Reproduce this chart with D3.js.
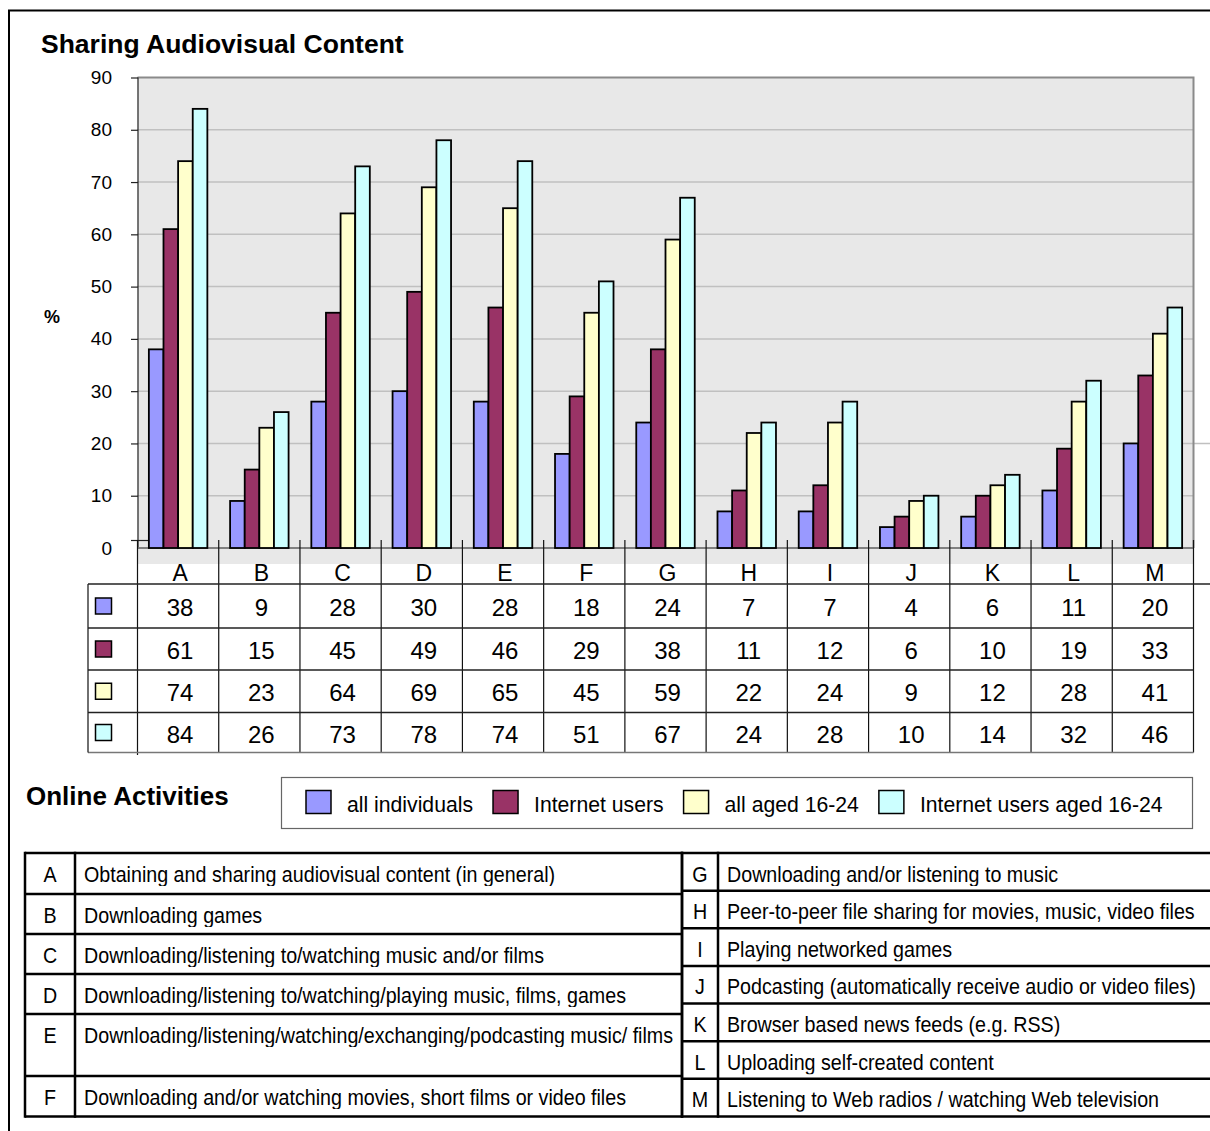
<!DOCTYPE html>
<html><head><meta charset="utf-8">
<script src="https://cdn.jsdelivr.net/npm/d3@7"></script>
<style>
body{margin:0;background:#fff}
svg{display:block}
text{font-family:"Liberation Sans",Arial,Helvetica,sans-serif;fill:#000}
</style>
</head><body>
<svg id="c" width="1210" height="1131"></svg>
<script>
// ---------------- DATA ----------------
const categories = ["A","B","C","D","E","F","G","H","I","J","K","L","M"];
const allIndividuals        = [38, 9, 28, 30, 28, 18, 24, 7, 7, 4, 6, 11, 20];
const internetUsers         = [61, 15, 45, 49, 46, 29, 38, 11, 12, 6, 10, 19, 33];
const allAged1624           = [74, 23, 64, 69, 65, 45, 59, 22, 24, 9, 12, 28, 41];
const internetUsersAged1624 = [84, 26, 73, 78, 74, 51, 67, 24, 28, 10, 14, 32, 46];
const seriesNames  = ["all individuals", "Internet users", "all aged 16-24", "Internet users aged 16-24"];
const seriesColors = ["#9999ff", "#993366", "#ffffcc", "#ccffff"];
const yTicks = [0, 10, 20, 30, 40, 50, 60, 70, 80, 90];
const activitiesLeftCodes = ["A","B","C","D","E","F"];
const activitiesLeftText = [
  "Obtaining and sharing audiovisual content (in general)",
  "Downloading games",
  "Downloading/listening to/watching music and/or films",
  "Downloading/listening to/watching/playing music, films, games",
  "Downloading/listening/watching/exchanging/podcasting music/ films",
  "Downloading and/or watching movies, short films or video files"
];
const activitiesRightCodes = ["G","H","I","J","K","L","M"];
const activitiesRightText = [
  "Downloading and/or listening to music",
  "Peer-to-peer file sharing for movies, music, video files",
  "Playing networked games",
  "Podcasting (automatically receive audio or video files)",
  "Browser based news feeds (e.g. RSS)",
  "Uploading self-created content",
  "Listening to Web radios / watching Web television"
];
const series = [allIndividuals, internetUsers, allAged1624, internetUsersAged1624];

// ---------------- LAYOUT ----------------
const svg = d3.select("#c");
const W = 1210, H = 1131;
const plot = {left: 137.5, right: 1193.5, top: 77.5, bottom: 548, floor: 564};

// outer frame
svg.append("line").attr("x1", 8).attr("x2", W).attr("y1", 10.5).attr("y2", 10.5)
  .attr("stroke", "#000").attr("stroke-width", 2);
svg.append("line").attr("x1", 9).attr("x2", 9).attr("y1", 10).attr("y2", H)
  .attr("stroke", "#000").attr("stroke-width", 2);

// title
svg.append("text").attr("x", 41).attr("y", 53)
  .style("font-weight", "bold").style("font-size", "26.5px")
  .text("Sharing Audiovisual Content");

const x = d3.scaleBand().domain(categories).range([plot.left, plot.right])
  .paddingInner(0.28).paddingOuter(0.14);
const xs = d3.scaleBand().domain(d3.range(series.length)).range([0, x.bandwidth()]);
const y = d3.scaleLinear().domain([0, 90]).range([plot.bottom, plot.top]);
const step = x.step();
const bandStart = c => plot.left + categories.indexOf(c) * step;
const bandCenter = c => bandStart(c) + step / 2;

// wall + floor
svg.append("rect").attr("x", plot.left).attr("y", plot.top)
  .attr("width", plot.right - plot.left).attr("height", plot.floor - plot.top)
  .attr("fill", "#e8e8e8");

// gridlines
svg.append("g").selectAll("line").data(yTicks.filter(t => t > 0 && t < 90)).join("line")
  .attr("x1", plot.left).attr("x2", d => d === 20 ? W : plot.right)
  .attr("y1", d => y(d)).attr("y2", d => y(d))
  .attr("stroke", "#c0c0c0").attr("stroke-width", 1.5);

// wall borders (top/right)
svg.append("path")
  .attr("d", `M${plot.left},${plot.top}H${plot.right}V${plot.bottom}`)
  .attr("fill", "none").attr("stroke", "#8a8a8a").attr("stroke-width", 2);

// y axis
const yAxis = d3.axisLeft(y).tickValues(yTicks.filter(t => t > 0)).tickSize(7).tickFormat("");
const ya = svg.append("g").attr("transform", `translate(${plot.left + 0.5},0)`).call(yAxis);
ya.select(".domain").remove();
ya.selectAll(".tick line").attr("stroke", "#222").attr("stroke-width", 1.2);
svg.append("line").attr("x1", plot.left + 0.5).attr("x2", plot.left + 0.5)
  .attr("y1", plot.top).attr("y2", plot.bottom).attr("stroke", "#222").attr("stroke-width", 1.2);
// 3-D style zero tick
svg.append("line").attr("x1", 131).attr("x2", 158).attr("y1", y(0) - 7.5).attr("y2", y(0) - 7.5)
  .attr("stroke", "#222").attr("stroke-width", 1.2);
svg.append("g").selectAll("text").data(yTicks).join("text")
  .attr("x", 112).attr("y", d => y(d) + 6.5)
  .attr("text-anchor", "end").style("font-size", "19px")
  .text(d => d);
svg.append("text").attr("x", 44).attr("y", 323)
  .style("font-weight", "bold").style("font-size", "18px").text("%");

// baseline
svg.append("line").attr("x1", plot.left).attr("x2", plot.right)
  .attr("y1", y(0)).attr("y2", y(0)).attr("stroke", "#808080").attr("stroke-width", 2);

// bars
const barData = [];
categories.forEach((c, i) => series.forEach((s, k) => barData.push({c, k, v: s[i]})));
svg.append("g").selectAll("rect").data(barData).join("rect")
  .attr("x", d => x(d.c) + xs(d.k))
  .attr("y", d => y(d.v))
  .attr("width", xs.bandwidth())
  .attr("height", d => y(0) - y(d.v))
  .attr("fill", d => seriesColors[d.k])
  .attr("stroke", "#000").attr("stroke-width", 1.8);

// ---------------- DATA TABLE ----------------
const table = {left: 88, top: 584, rowLines: [584, 628, 670, 712.5, 752.5]};
const tg = svg.append("g");
d3.range(categories.length + 1).forEach(k => {
  const xx = plot.left + k * step;
  tg.append("line").attr("x1", xx).attr("x2", xx)
    .attr("y1", 540).attr("y2", k === 0 ? 755 : 752.5)
    .attr("stroke", "#111").attr("stroke-width", 1.2);
});
table.rowLines.forEach((yy, i) => {
  tg.append("line").attr("x1", table.left).attr("x2", i === 0 ? W : plot.right)
    .attr("y1", yy).attr("y2", yy)
    .attr("stroke", i === 4 ? "#777" : "#222").attr("stroke-width", 1.3);
});
tg.append("line").attr("x1", table.left).attr("x2", table.left)
  .attr("y1", table.top).attr("y2", 752.5).attr("stroke", "#222").attr("stroke-width", 1.3);
tg.selectAll("text.cat").data(categories).join("text").attr("class", "cat")
  .attr("x", d => bandCenter(d) + 2).attr("y", 581)
  .attr("text-anchor", "middle").style("font-size", "23px").text(d => d);
series.forEach((s, k) => {
  const top = table.rowLines[k], bot = table.rowLines[k + 1], mid = (top + bot) / 2;
  tg.append("rect").attr("x", 95.5).attr("y", mid - 8).attr("width", 16).attr("height", 16)
    .attr("fill", seriesColors[k]).attr("stroke", "#000").attr("stroke-width", 1.5);
  tg.selectAll(null).data(s).join("text")
    .attr("x", (d, i) => bandCenter(categories[i]) + 2).attr("y", mid + 10)
    .attr("text-anchor", "middle").style("font-size", "24px").text(d => d);
});

// ---------------- LEGEND ----------------
svg.append("text").attr("x", 26).attr("y", 805)
  .style("font-weight", "bold").style("font-size", "26px").text("Online Activities");
svg.append("rect").attr("x", 281.5).attr("y", 777.5).attr("width", 911).attr("height", 51)
  .attr("fill", "#fff").attr("stroke", "#666").attr("stroke-width", 1.2);
let lx = 306;
seriesNames.forEach((name, k) => {
  svg.append("rect").attr("x", lx).attr("y", 790.5).attr("width", 25).attr("height", 23)
    .attr("fill", seriesColors[k]).attr("stroke", "#000").attr("stroke-width", 1.5);
  const t = svg.append("text").attr("x", lx + 41).attr("y", 812)
    .style("font-size", "21.2px").text(name);
  lx = lx + 41 + t.node().getComputedTextLength() + 20;
});

// ---------------- ACTIVITY TABLES ----------------
const narrow = 0.915;
const defs = svg.append("defs");
let clipId = 0;
function activityTable(codes, texts, x0, x1, xDiv, rowTops) {
  const g = svg.append("g");
  codes.forEach((code, i) => {
    const top = rowTops[i];
    const id = "clip" + (clipId++);
    defs.append("clipPath").attr("id", id).append("rect")
      .attr("x", x0).attr("y", top).attr("width", x1 - x0).attr("height", 33);
    const cg = g.append("g").attr("clip-path", `url(#${id})`);
    cg.append("text").attr("transform", `translate(${(x0 + xDiv) / 2},${top + 28.5}) scale(${narrow},1)`)
      .attr("text-anchor", "middle").style("font-size", "21.5px").text(code);
    cg.append("text").attr("transform", `translate(${xDiv + 9},${top + 28.5}) scale(${narrow},1)`)
      .style("font-size", "21.5px").text(texts[i]);
  });
  rowTops.forEach(yy => g.append("line").attr("x1", x0).attr("x2", x1).attr("y1", yy).attr("y2", yy)
    .attr("stroke", "#000").attr("stroke-width", 2.5));
  [x0, xDiv, x1].forEach(xx => g.append("line").attr("x1", xx).attr("x2", xx)
    .attr("y1", rowTops[0] - 1.25).attr("y2", rowTops[rowTops.length - 1] + 1.25)
    .attr("stroke", "#000").attr("stroke-width", 2.5));
}
activityTable(activitiesLeftCodes, activitiesLeftText, 25, 682, 75,
  [853, 894, 934, 974, 1014, 1076, 1116.5]);
const rTops = d3.range(activitiesRightCodes.length + 1).map(i => 853 + i * (1116.5 - 853) / activitiesRightCodes.length);
activityTable(activitiesRightCodes, activitiesRightText, 682, 1212, 718, rTops);
</script>
</body></html>
